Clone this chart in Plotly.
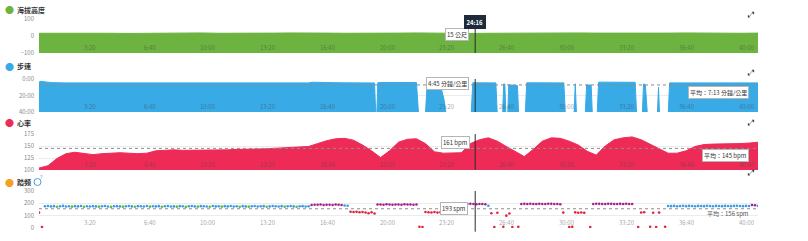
import plotly.graph_objects as go

# ---------------- data ----------------
TOTAL_S = 2400
CURSOR_T = 1456          # 24:16
CURSOR_LABEL = "24:16"

X_TICKS = [200, 400, 600, 800, 1000, 1200, 1400, 1600, 1800, 2000, 2200, 2400]
X_TICK_TEXT = ["3:20", "6:40", "10:00", "13:20", "16:40", "20:00",
               "23:20", "26:40", "30:00", "33:20", "36:40", "40:00"]

# elevation (m), one sample per minute
ELEV_T = list(range(0, 2401, 60))
ELEV = [16, 17, 18, 17, 16, 15, 16, 17, 19, 18, 16, 15, 16, 17, 18, 19, 17, 16, 15, 16, 17,
        18, 16, 15, 15, 16, 17, 16, 15, 16, 18, 17, 16, 15, 16, 17, 18, 16, 15, 16, 17]
ELEV_CURSOR = "15 公尺"
ELEV_TICKS = [-100, 0, 100]

# pace (min/km) samples (time s, pace)
PACE_T = [0, 8, 20, 45, 90, 200, 350, 500, 650, 800, 900, 912, 1000, 1008, 1120, 1126,
          1131, 1140, 1260, 1270, 1287, 1296, 1338, 1352, 1366, 1440, 1448, 1525, 1532,
          1546, 1551, 1555, 1560, 1563, 1568, 1582, 1597, 1603, 1621, 1628, 1752, 1759,
          1784, 1790, 1796, 1821, 1828, 1843, 1849, 1861, 1868, 1990, 1997, 2012, 2018,
          2024, 2034, 2062, 2068, 2073, 2098, 2105, 2250, 2400]
PACE = [3.6, 2.8, 3.5, 4.4, 4.7, 4.8, 4.7, 4.75, 4.7, 4.75, 4.7, 3.9, 3.8, 4.6, 4.8, 60,
        4.4, 4.2, 4.2, 60, 60, 4.5, 4.6, 25, 60, 60, 4.6, 4.7, 60,
        60, 6.0, 6.2, 60, 60, 7.0, 7.6, 8.0, 60, 60, 4.6, 4.7, 60,
        60, 5.8, 60, 60, 7.2, 7.4, 60, 60, 3.8, 4.0, 60, 60, 6.0,
        7.0, 60, 60, 10.0, 60, 60, 4.7, 4.75, 4.7]
PACE_AVG = 7 + 13 / 60
PACE_CURSOR_VAL = 4.75
PACE_CURSOR = "4:45 分鐘/公里"
PACE_AVG_LABEL = "平均：7:13 分鐘/公里"
PACE_TICKS = [0, 20, 40]
PACE_TICK_TEXT = ["0:00", "20:00", "40:00"]

# heart rate (bpm), one sample per 30 s
HR_T = list(range(0, 2401, 30))
HR = [104, 109, 124, 134, 137, 135, 132, 134, 135, 136, 135, 134, 135, 140, 141, 142,
      141, 141, 142, 141, 142, 142, 143, 143, 144, 144, 145, 146, 146, 147, 149, 155,
      161, 165, 166, 162, 152, 140, 126, 140, 158, 164, 165, 155, 138, 135, 135, 136,
      155, 163, 167, 160, 149, 138, 128, 143, 160, 167, 166, 160, 152, 139, 131, 150,
      163, 167, 169, 163, 154, 144, 135, 135, 140, 149, 153, 154, 154, 155, 155, 156, 158]
HR_AVG = 145
HR_CURSOR_VAL = 161
HR_CURSOR = "161 bpm"
HR_AVG_LABEL = "平均：145 bpm"
HR_TICKS = [100, 125, 150, 175]

# cadence (spm), one sample per 10 s (None = no reading)
CAD_T = list(range(0, 2401, 10))
CAD = [
    125, 8, 176, 178, 175, 177, 172, 176, 179, 174,
    176, 173, 177, 175, 178, 172, 176, 174, 177, 175,
    173, 176, 178, 174, 171, 176, 177, 175, 173, 176,
    178, 175, 172, 177, 176, 174, 178, 173, 176, 175,
    177, 172, 176, 178, 174, 175, 173, 177, 176, 171,
    176, 178, 175, 173, 177, 176, 174, 172, 178, 175,
    176, 173, 177, 175, 178, 174, 176, 172, 177, 175,
    173, 176, 178, 174, 176, 177, 172, 175, 178, 176,
    174, 177, 173, 176, 178, 175, 172, 176, 177, 174,
    176,
    187, 189, 188, 190, 186, 189, 188, 187, 190, 188, 186, 182, 180,
    132, 130, 131, 128, 130, 126, 120, 128, 118,
    190, 191, 189, 192, 190, 188, 191, 190, 189, 192, 190, 191, 189, 190,
    10, 8, 130, 128, 126, 130, 125, 128, None,
    None, None, 125, None, None, None, None,
    194, 196, 195, 193, 195, 194, 192, 180,
    120, 8, 124, None, 10, 100, 118, 8, None, 10,
    194, 196, 195, 197, 194, 195, 196, 194, 195, 197, 196, 194, 195, 193,
    125, None, 8, 10, 127, 124, 126, 123, None, 8,
    195, 197, 196, 194, 195, 197, 196, 195, 194, 196, 195, 197, 195, 194,
    None, 8, 126, 128, None, 10, 124, 8, 125, None, 10,
    178, 177, 179, 176, 178, 180, 177, 179, 178, 176,
    179, 178, 177, 180, 178, 176, 179, 178, 177, 179,
    178, 177, 179, 180, 178, 177, 179, 178, 186, 185, 179,
]
CAD_AVG = 156
CAD_CURSOR_VAL = 193
CAD_CURSOR = "193 spm"
CAD_AVG_LABEL = "平均：156 spm"
CAD_TICKS = [0, 100, 200, 300]

TITLES = ["海拔高度", "步速", "心率", "踏頻"]

# ---------------- style ----------------
W, H = 808, 241
L, R = 39, 50
PW = W - L - R
GREEN = "#6cb33f"
BLUE = "#38aae6"
RED = "#ee2b57"
ORANGE = "#f4a020"
CAD_PURPLE = "#a3208d"
CAD_BLUE = "#3d9be2"
CAD_GREEN = "#66bb3a"
CAD_ORANGE = "#f29d1f"
CAD_RED = "#e0243c"
FONT = "Noto Sans CJK TC, Noto Sans, sans-serif"
TICK_FONT = dict(size=6, color="#8a8a8a", family=FONT)
XTICK_FONT = dict(size=6, color="rgba(70,70,70,0.5)", family=FONT)


def px_x(p):
    return (p - L) / PW


def px_y(p):
    return 1 - p / H


def dom(top, bottom):
    return [px_y(bottom), px_y(top)]


def cad_color(v):
    if v is None:
        return CAD_RED
    if v >= 184:
        return CAD_PURPLE
    if v >= 174:
        return CAD_BLUE
    if v >= 164:
        return CAD_GREEN
    if v >= 153:
        return CAD_ORANGE
    return CAD_RED


panels = [(19, 53), (79, 112), (134, 170), (191, 228)]  # (top px, bottom px)

fig = go.Figure()

# elevation
ELEV_FLOOR = ELEV_TICKS[0]
fig.add_trace(go.Scatter(x=[0, TOTAL_S], y=[ELEV_FLOOR, ELEV_FLOOR], mode="lines",
                         line=dict(width=0, color=GREEN), hoverinfo="skip",
                         xaxis="x", yaxis="y"))
fig.add_trace(go.Scatter(x=ELEV_T, y=ELEV, mode="lines", fill="tonexty",
                         fillcolor=GREEN, line=dict(color=GREEN, width=1),
                         xaxis="x", yaxis="y"))
# pace
PACE_FLOOR = PACE_TICKS[-1]
fig.add_trace(go.Scatter(x=[0, TOTAL_S], y=[PACE_FLOOR, PACE_FLOOR], mode="lines",
                         line=dict(width=0, color=BLUE), hoverinfo="skip",
                         xaxis="x2", yaxis="y2"))
fig.add_trace(go.Scatter(x=PACE_T, y=PACE, mode="lines", fill="tonexty",
                         fillcolor=BLUE, line=dict(color=BLUE, width=1),
                         xaxis="x2", yaxis="y2"))
# heart rate
fig.add_trace(go.Scatter(x=HR_T, y=HR, mode="lines", fill="tozeroy",
                         fillcolor=RED, line=dict(color=RED, width=1),
                         xaxis="x3", yaxis="y3"))
# cadence
fig.add_trace(go.Scatter(x=CAD_T, y=CAD, mode="markers",
                         marker=dict(size=2.6, color=[cad_color(v) for v in CAD]),
                         xaxis="x4", yaxis="y4"))

layout = dict(
    width=W, height=H, autosize=False, template="none",
    margin=dict(l=L, r=R, t=0, b=0, pad=0),
    paper_bgcolor="white", plot_bgcolor="white",
    showlegend=False, font=dict(family=FONT),
)

yspecs = [
    dict(range=[ELEV_TICKS[0], ELEV_TICKS[-1]], tickvals=ELEV_TICKS),
    dict(range=[PACE_TICKS[-1], PACE_TICKS[0]], tickvals=PACE_TICKS, ticktext=PACE_TICK_TEXT),
    dict(range=[HR_TICKS[0], HR_TICKS[-1]], tickvals=HR_TICKS),
    dict(range=[CAD_TICKS[0], CAD_TICKS[-1]], tickvals=CAD_TICKS),
]
for i, (top, bottom) in enumerate(panels):
    sfx = "" if i == 0 else str(i + 1)
    layout["xaxis" + sfx] = dict(
        domain=[0, 1], anchor="y" + sfx, range=[0, TOTAL_S], automargin=False,
        showticklabels=False, showgrid=False, zeroline=False, showline=False,
        ticks="", fixedrange=True)
    ys = dict(domain=dom(top, bottom), anchor="x" + sfx, showgrid=True, automargin=False,
              gridcolor="#ececec", gridwidth=1, zeroline=False, showline=False,
              ticks="", tickfont=TICK_FONT, ticklabelstandoff=4, fixedrange=True)
    ys.update(yspecs[i])
    layout["yaxis" + sfx] = ys

fig.update_layout(**layout)

# average dotted lines
for sfx, val in [("2", PACE_AVG), ("3", HR_AVG), ("4", CAD_AVG)]:
    fig.add_shape(type="line", xref="x" + sfx + " domain", yref="y" + sfx,
                  x0=0, x1=1, y0=val, y1=val,
                  line=dict(color="#8c8c8c", width=1, dash="dot"))

# cursor lines
cursor_spans = [(0, 0.79), (0, 1), (0, 1), (-0.1, 1)]
for i, (a, b) in enumerate(cursor_spans):
    sfx = "" if i == 0 else str(i + 1)
    fig.add_shape(type="line", xref="x" + sfx, yref="y" + sfx + " domain",
                  x0=CURSOR_T, x1=CURSOR_T, y0=a, y1=b,
                  line=dict(color="#2b2b2b", width=1))

ann = []
# x tick labels (inside the plot, to the left of each tick)
for i in range(len(panels)):
    sfx = "" if i == 0 else str(i + 1)
    for tv, tt in zip(X_TICKS, X_TICK_TEXT):
        ann.append(dict(text=tt, x=tv, y=0, xref="x" + sfx, yref="y" + sfx + " domain",
                        xanchor="right", yanchor="bottom", xshift=-1, yshift=-1,
                        showarrow=False, font=XTICK_FONT))

# titles with coloured dots
title_y = [10, 66, 123, 182]
dot_cols = [GREEN, BLUE, RED, ORANGE]
for t, yy, c in zip(TITLES, title_y, dot_cols):
    ann.append(dict(text="●", x=px_x(9), y=px_y(yy), xref="paper", yref="paper",
                    showarrow=False, font=dict(size=9, color=c), xanchor="center",
                    yanchor="middle"))
    ann.append(dict(text="<b>" + t + "</b>", x=px_x(15), y=px_y(yy), xref="paper",
                    yref="paper", showarrow=False, font=dict(size=7, color="#333"),
                    xanchor="left", yanchor="middle"))
# info icon next to cadence title
fig.add_shape(type="circle", xref="paper", yref="paper",
              x0=px_x(34), x1=px_x(41), y0=px_y(185.5), y1=px_y(178.5),
              line=dict(color="#4aa3df", width=1), fillcolor="white")
ann.append(dict(text="?", x=px_x(37.5), y=px_y(182), xref="paper", yref="paper",
                showarrow=False, font=dict(size=5, color="#4aa3df")))

# expand icons
for yy in [8, 66, 123, 179]:
    ann.append(dict(text="⤢", x=px_x(756), y=px_y(yy), xref="paper", yref="paper",
                    showarrow=False, font=dict(size=8, color="#222",
                                               family="DejaVu Sans")))

box = dict(showarrow=False, bgcolor="white", bordercolor="#b5b5b5", borderwidth=1,
           borderpad=1, font=dict(size=6, color="#333"))
# cursor value boxes
ann.append(dict(text=ELEV_CURSOR, x=CURSOR_T, y=ELEV[24], xref="x", yref="y",
                xanchor="right", yanchor="middle", xshift=-6, yshift=-1, **box))
ann.append(dict(text=PACE_CURSOR, x=CURSOR_T, y=PACE_CURSOR_VAL, xref="x2", yref="y2",
                xanchor="right", yanchor="middle", xshift=-6, yshift=-1, **box))
ann.append(dict(text=HR_CURSOR, x=CURSOR_T, y=HR_CURSOR_VAL, xref="x3", yref="y3",
                xanchor="right", yanchor="middle", xshift=-5, yshift=-2, **box))
ann.append(dict(text=CAD_CURSOR, x=CURSOR_T, y=CAD_CURSOR_VAL, xref="x4", yref="y4",
                xanchor="right", yanchor="middle", xshift=-7, yshift=-4, **box))
# averages
ann.append(dict(text=PACE_AVG_LABEL, x=1, y=PACE_AVG, xref="x2 domain", yref="y2",
                xanchor="right", yanchor="top", xshift=-9, yshift=-1, **box))
ann.append(dict(text=HR_AVG_LABEL, x=1, y=HR_AVG, xref="x3 domain", yref="y3",
                xanchor="right", yanchor="top", xshift=-9, yshift=-1, **box))
ann.append(dict(text=CAD_AVG_LABEL, x=1, y=CAD_AVG, xref="x4 domain", yref="y4",
                xanchor="right", yanchor="top", xshift=-8, yshift=1, borderpad=0,
                showarrow=False, font=dict(size=6, color="#555")))
# time box
ann.append(dict(text="<b>" + CURSOR_LABEL + "</b>", x=CURSOR_T, y=px_y(22), xref="x",
                yref="paper", xanchor="center", yanchor="middle", showarrow=False,
                bgcolor="#1d2b3a", bordercolor="#1d2b3a", borderpad=1.5,
                font=dict(size=6, color="white")))

fig.update_layout(annotations=ann)
fig.write_html("out.html")
